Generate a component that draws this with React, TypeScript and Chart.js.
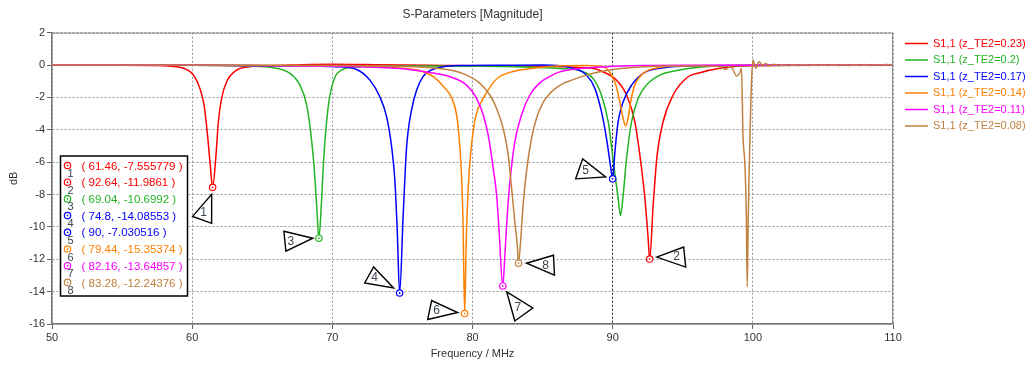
import React, { useEffect, useRef } from "react";
import { Chart, registerables } from "chart.js";

Chart.register(...registerables);

// ---------- data ----------
const seriesLabels = [
  "S1,1 (z_TE2=0.23)",
  "S1,1 (z_TE2=0.2)",
  "S1,1 (z_TE2=0.17)",
  "S1,1 (z_TE2=0.14)",
  "S1,1 (z_TE2=0.11)",
  "S1,1 (z_TE2=0.08)",
];
const seriesColors = ["#ff0000", "#22b422", "#0000ff", "#ff8000", "#ff00ff", "#c08040"];

const redFreq = [50, 55, 57, 58.5, 59.4, 60.1, 60.55, 60.85, 61.07, 61.27, 61.46, 61.7, 61.87, 62.1, 62.46, 63.17, 64.1, 66, 68.5, 70, 71.5, 73, 75, 78, 82, 85, 87, 88.6, 89.3, 90.27, 91.0, 91.58, 91.94, 92.3, 92.53, 92.64, 92.89, 93.17, 93.6, 94.31, 95.38, 96.22, 97.65, 99.07, 100, 105, 110];
const redDb = [0, -0.01, -0.03, -0.07, -0.2, -0.62, -1.44, -2.47, -4.1, -5.97, -7.56, -5.56, -3.5, -2.06, -1.03, -0.31, -0.1, -0.03, 0.04, 0.05, 0.04, 0.02, 0, -0.02, -0.05, -0.08, -0.12, -0.2, -0.41, -0.93, -1.85, -3.5, -5.56, -8.24, -10.7, -11.99, -8.65, -5.56, -3.5, -1.85, -0.72, -0.47, -0.2, -0.06, -0.02, 0, 0];

const greenFreq = [50, 60, 63, 64.5, 65.55, 66.98, 67.69, 68.17, 68.45, 68.69, 68.88, 69.04, 69.24, 69.36, 69.55, 69.79, 70.2, 70.66, 71.49, 73, 76, 80, 83, 86.23, 87.9, 88.6, 89.2, 89.68, 90.08, 90.39, 90.56, 90.75, 90.99, 91.35, 91.82, 92.41, 93.36, 94.79, 97, 100, 110];
const greenDb = [0, -0.01, -0.04, -0.08, -0.14, -0.51, -1.24, -2.47, -4.1, -6.18, -8.65, -10.7, -8.24, -6.18, -3.9, -2.06, -0.72, -0.31, -0.14, -0.08, -0.06, -0.07, -0.1, -0.21, -0.41, -0.82, -1.85, -3.5, -6.18, -8.24, -9.3, -8.03, -5.77, -3.5, -2.06, -1.24, -0.62, -0.31, -0.08, -0.02, 0];

const blueFreq = [50, 62, 64, 67, 70.3, 71.73, 72.68, 73.39, 73.87, 74.23, 74.46, 74.63, 74.8, 75.06, 75.3, 75.65, 76.01, 76.48, 77.0, 77.91, 79, 82, 85, 87.18, 88.13, 88.73, 89.2, 89.56, 89.84, 90, 90.16, 90.39, 90.75, 91.35, 92.18, 93.36, 95.27, 98, 110];
const blueDb = [0, -0.01, -0.03, -0.06, -0.1, -0.27, -0.93, -1.96, -3.19, -5.05, -7.1, -10.2, -14.09, -9.17, -5.05, -2.78, -1.55, -0.7, -0.33, -0.1, -0.03, -0.01, 0, -0.2, -0.62, -1.44, -2.88, -4.53, -6.18, -7.03, -5.36, -3.5, -2.27, -1.24, -0.51, -0.2, -0.06, -0.02, 0];

const orangeFreq = [50, 60, 66, 70, 72, 73.6, 74.82, 76.25, 77.2, 78.0, 78.5, 78.85, 79.05, 79.2, 79.32, 79.44, 79.55, 79.7, 79.9, 80.2, 80.8, 81.3, 81.8, 82.66, 84.32, 86, 88, 89.2, 89.56, 89.92, 90.23, 90.51, 90.75, 90.92, 91.1, 91.28, 91.58, 92.18, 93.36, 95, 110];
const orangeDb = [0, -0.01, -0.03, -0.06, -0.08, -0.1, -0.18, -0.35, -0.72, -1.4, -2.0, -3.0, -4.5, -6.5, -9.5, -15.35, -11.0, -7.5, -5.2, -3.3, -2.0, -1.3, -0.8, -0.45, -0.2, -0.05, -0.03, -0.08, -0.21, -0.62, -1.24, -2.27, -3.3, -3.75, -3.3, -2.27, -1.24, -0.51, -0.14, -0.04, 0];

const magentaFreq = [50, 60, 66, 70, 73, 74.82, 76.5, 78.39, 79.58, 80.29, 80.77, 81.12, 81.48, 81.72, 81.9, 82.16, 82.31, 82.48, 82.67, 83.02, 83.5, 84.09, 84.8, 85.52, 86.23, 87.66, 89.56, 92, 95, 110];
const magentaDb = [0, -0.01, -0.04, -0.08, -0.14, -0.21, -0.4, -0.72, -1.24, -2.06, -3.09, -4.33, -6.39, -8.03, -10.3, -13.65, -11.74, -9.27, -7.21, -4.74, -3.09, -1.85, -1.1, -0.7, -0.42, -0.21, -0.1, -0.03, -0.01, 0];

const brownFreq = [50, 65, 70, 73, 76.25, 78.39, 79.58, 80.53, 81.24, 81.72, 82.19, 82.55, 82.79, 83.02, 83.19, 83.28, 83.43, 83.61, 83.85, 84.21, 84.56, 85.04, 85.52, 86.23, 87.18, 88.13, 89.08, 90.5, 92, 94, 96, 97.5, 98.1, 98.3, 98.5, 98.85, 99.05, 99.19, 99.3, 99.43, 99.54, 99.6, 99.66, 99.73, 99.83, 99.92, 100.02, 100.2, 100.45, 100.7, 100.9, 101.2, 101.5, 101.85, 102.2, 102.55, 102.9, 103.25, 103.6, 104.0, 104.35, 104.7, 105.05, 105.4, 105.8, 106.15, 106.5, 106.9, 107.25, 107.6, 108.0, 108.35, 108.7, 109.1, 109.5, 110];
const brownDb = [0, -0.01, -0.03, -0.05, -0.12, -0.31, -0.62, -1.13, -1.85, -2.68, -3.91, -5.56, -7.62, -9.68, -11.1, -12.24, -10.9, -8.65, -6.59, -4.53, -3.3, -2.3, -1.75, -1.25, -0.9, -0.62, -0.41, -0.21, -0.12, -0.06, -0.05, -0.08, -0.26, -0.1, -0.15, -0.68, -0.5, -0.2, -4.43, -6.07, -9.37, -13.7, -10.2, -6.9, -3.19, -0.72, 0.31, -0.2, 0.2, -0.06, 0.1, -0.05, 0.05, -0.04, 0.04, -0.04, 0.04, -0.03, 0.03, -0.03, 0.03, -0.03, 0.03, -0.03, 0.03, -0.03, 0.03, -0.03, 0.03, -0.03, 0.03, -0.03, 0.03, -0.03, 0.03, 0];

const seriesFreq = [redFreq, greenFreq, blueFreq, orangeFreq, magentaFreq, brownFreq];
const seriesDb = [redDb, greenDb, blueDb, orangeDb, magentaDb, brownDb];

// markers
const markerFreq = [61.46, 92.64, 69.04, 74.8, 90, 79.44, 82.16, 83.28];
const markerDb = [-7.555779, -11.9861, -10.6992, -14.08553, -7.030516, -15.35374, -13.64857, -12.24376];
const markerSeries = [0, 0, 1, 2, 2, 3, 4, 5];

// axis ranges
const xMin = 50, xMax = 110, xStep = 10;
const yMin = -16, yMax = 2, yStep = 2;
const highlightFreq = 90;

// ---------- styles / layout ----------
const FONT = "'Liberation Sans', Arial, sans-serif";
const TEXT = "#333333";
// callout triangles: vertices and label offsets relative to marker pixel
const callouts = [
  { pts: [[-20, 29], [-1, 7], [-1, 36]], lab: [-9, 25] },
  { pts: [[7, -2], [34, -12], [36, 8]], lab: [27, -2] },
  { pts: [[-35, -7], [-6, 0], [-33, 13]], lab: [-28, 3] },
  { pts: [[-35, -10], [-26, -26], [-6, -5]], lab: [-25, -15] },
  { pts: [[-37, 0], [-30, -20], [-7, -2]], lab: [-27, -8] },
  { pts: [[-37, 6], [-33, -13], [-7, -1]], lab: [-28, -3] },
  { pts: [[4, 6], [30, 22], [12, 35]], lab: [15, 22] },
  { pts: [[8, 0], [35, -8], [36, 12]], lab: [27, 2] },
];

const overlayPlugin = {
  id: "overlay",
  afterDatasetsDraw(chart: any) {
    const ctx: CanvasRenderingContext2D = chart.ctx;
    const xs = chart.scales.x;
    const ys = chart.scales.y;
    const ca = chart.chartArea;
    ctx.save();

    // top / right frame
    ctx.strokeStyle = "#8a8a8a";
    ctx.lineWidth = 1;
    ctx.setLineDash([]);
    ctx.beginPath();
    ctx.moveTo(ca.left, ca.top + 0.5);
    ctx.lineTo(ca.right, ca.top + 0.5);
    ctx.moveTo(ca.right - 0.5, ca.top);
    ctx.lineTo(ca.right - 0.5, ca.bottom);
    ctx.stroke();

    // marker circles
    const drawMarker = (x: number, y: number, color: string) => {
      ctx.beginPath();
      ctx.arc(x, y, 3.2, 0, Math.PI * 2);
      ctx.fillStyle = "#ffffff";
      ctx.fill();
      ctx.strokeStyle = color;
      ctx.lineWidth = 1.2;
      ctx.stroke();
      ctx.beginPath();
      ctx.arc(x, y, 0.9, 0, Math.PI * 2);
      ctx.fillStyle = color;
      ctx.fill();
    };

    markerFreq.forEach((f, i) => {
      const mx = xs.getPixelForValue(f);
      const my = ys.getPixelForValue(markerDb[i]);
      const c = callouts[i];
      ctx.beginPath();
      c.pts.forEach((p, k) => {
        if (k === 0) ctx.moveTo(mx + p[0], my + p[1]);
        else ctx.lineTo(mx + p[0], my + p[1]);
      });
      ctx.closePath();
      ctx.fillStyle = "#ffffff";
      ctx.fill();
      ctx.strokeStyle = "#000000";
      ctx.lineWidth = 1.4;
      ctx.stroke();
      ctx.fillStyle = "#3c4650";
      ctx.font = `12px ${FONT}`;
      ctx.textAlign = "center";
      ctx.textBaseline = "middle";
      ctx.fillText(String(i + 1), mx + c.lab[0], my + c.lab[1]);
      drawMarker(mx, my, seriesColors[markerSeries[i]]);
    });

    // marker table
    const bx = 60.5, by = 156, bw = 127, bh = 140;
    ctx.fillStyle = "#ffffff";
    ctx.fillRect(bx, by, bw, bh);
    ctx.strokeStyle = "#000000";
    ctx.lineWidth = 1.5;
    ctx.strokeRect(bx, by, bw, bh);
    markerFreq.forEach((f, i) => {
      const ry = 165.5 + 16.7 * i;
      const col = seriesColors[markerSeries[i]];
      drawMarker(67.5, ry, col);
      ctx.fillStyle = "#3c4650";
      ctx.font = `11px ${FONT}`;
      ctx.textAlign = "center";
      ctx.textBaseline = "middle";
      ctx.fillText(String(i + 1), 70.5, ry + 8.5);
      ctx.fillStyle = col;
      ctx.font = `11.5px ${FONT}`;
      ctx.textAlign = "left";
      ctx.fillText(`( ${f}, ${markerDb[i]} )`, 81.5, ry + 1);
    });

    // legend
    seriesLabels.forEach((lab, i) => {
      const ly = 43.5 + 16.5 * i;
      ctx.strokeStyle = seriesColors[i];
      ctx.lineWidth = 1.5;
      ctx.beginPath();
      ctx.moveTo(905, ly);
      ctx.lineTo(928, ly);
      ctx.stroke();
      ctx.fillStyle = seriesColors[i];
      ctx.font = `11px ${FONT}`;
      ctx.textAlign = "left";
      ctx.textBaseline = "middle";
      ctx.fillText(lab, 933, ly);
    });

    ctx.restore();
  },
};

export default function App() {
  const canvasRef = useRef<HTMLCanvasElement | null>(null);

  useEffect(() => {
    const canvas = canvasRef.current;
    if (!canvas) return;
    const datasets = seriesLabels.map((label, i) => ({
      label,
      data: seriesFreq[i].map((f, k) => ({ x: f, y: seriesDb[i][k] })),
      borderColor: seriesColors[i],
      backgroundColor: seriesColors[i],
      borderWidth: 1.5,
      pointRadius: 0,
      fill: false,
      cubicInterpolationMode: "monotone" as const,
      order: seriesLabels.length - 1 - i,
    }));

    const chart = new Chart(canvas, {
      type: "line",
      data: { datasets },
      options: {
        animation: false,
        responsive: false,
        devicePixelRatio: 1,
        layout: { padding: { left: 0, right: 140, top: 0, bottom: 0 } },
        plugins: {
          legend: { display: false },
          tooltip: { enabled: false },
          title: {
            display: true,
            text: "S-Parameters [Magnitude]",
            fullSize: false,
            color: TEXT,
            font: { family: FONT, size: 12, weight: "normal" },
            padding: { top: 7, bottom: 11.3 },
          },
        },
        scales: {
          x: {
            type: "linear",
            min: xMin,
            max: xMax,
            afterFit: (s: any) => { s.height = 41; },
            ticks: {
              stepSize: xStep,
              color: TEXT,
              font: { family: FONT, size: 11 },
              padding: 2,
              maxRotation: 0,
            },
            grid: {
              color: (c: any) => (c.tick && c.tick.value === highlightFreq ? "#222222" : "#9a9a9a"),
              lineWidth: 1,
              tickLength: 5,
              tickColor: "#666666",
              tickBorderDash: [],
            },
            border: { display: true, color: "#777777", width: 1.5, dash: [2, 2] },
            title: {
              display: true,
              text: "Frequency / MHz",
              color: TEXT,
              font: { family: FONT, size: 11 },
              padding: { top: 0, bottom: 4.4 },
            },
          },
          y: {
            type: "linear",
            min: yMin,
            max: yMax,
            afterFit: (s: any) => { s.width = 52; },
            ticks: {
              stepSize: yStep,
              color: TEXT,
              font: { family: FONT, size: 11 },
              padding: 2,
            },
            grid: {
              color: "#9a9a9a",
              lineWidth: 1,
              tickLength: 5,
              tickColor: "#666666",
              tickBorderDash: [],
            },
            border: { display: true, color: "#777777", width: 1.5, dash: [2, 2] },
            title: {
              display: true,
              text: "dB",
              color: TEXT,
              font: { family: FONT, size: 11 },
              padding: { top: 7.4, bottom: 0 },
            },
          },
        },
      },
      plugins: [overlayPlugin],
    } as any);

    return () => chart.destroy();
  }, []);

  return (
    <div style={{ position: "fixed", left: 0, top: 0, width: 1033, height: 365, background: "#ffffff" }}>
      <canvas ref={canvasRef} width={1033} height={365} style={{ display: "block" }} />
    </div>
  );
}
